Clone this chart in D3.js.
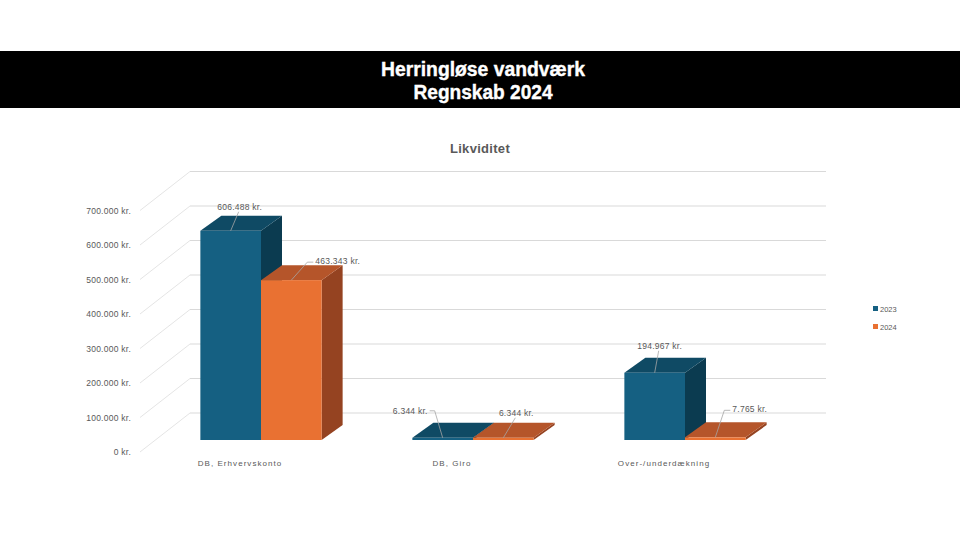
<!DOCTYPE html>
<html>
<head>
<meta charset="utf-8">
<script src="https://cdn.jsdelivr.net/npm/d3@7"></script>
<style>
  body { margin: 0; background: #fff; }
  svg { display: block; }
</style>
</head>
<body>
<svg id="chart"></svg>
<script>
// data
const categories = ["DB, Erhvervskonto", "DB, Giro", "Over-/underdækning"];
const seriesNames = ["2023", "2024"];
const values2023 = [606488, 6344, 194967];
const values2024 = [463343, 6344, 7765];
const yTicks = [0, 100000, 200000, 300000, 400000, 500000, 600000, 700000];
const titleLines = ["Herringløse vandværk", "Regnskab 2024"];
const chartTitle = "Likviditet";

// header line widths (narrow font in the original)
const titleWidths = [204, 139];

// where each data label sits relative to the top of its bar (text centre offset, anchor, leader style)
const labelPlacement = [
  [{dx: 9, dy: -24, anchor: "middle", elbow: 0}, {dx: 24, dy: -19, anchor: "start", elbow: 1}],
  [{dx: -15, dy: -27, anchor: "end", elbow: -1}, {dx: 13, dy: -25, anchor: "middle", elbow: 0}],
  [{dx: 5, dy: -27, anchor: "middle", elbow: 0}, {dx: 17, dy: -28, anchor: "start", elbow: 1}]
];

const W = 960, H = 540;
const svg = d3.select("#chart").attr("width", W).attr("height", H);

const fmt = v => d3.format(",")(v).replace(/,/g, ".") + " kr.";
const FONT = "'Liberation Sans', Arial, sans-serif";

// header band
svg.append("rect").attr("x", 0).attr("y", 51).attr("width", W).attr("height", 57).attr("fill", "#000");
svg.selectAll(".hdr").data(titleLines).enter().append("text")
  .attr("x", W / 2 + 3)
  .attr("y", (d, i) => 76 + i * 23)
  .attr("text-anchor", "middle")
  .attr("textLength", (d, i) => titleWidths[i])
  .attr("lengthAdjust", "spacingAndGlyphs")
  .style("font-family", FONT)
  .style("font-weight", "bold")
  .style("font-size", "21px")
  .attr("fill", "#fff")
  .attr("stroke", "#fff")
  .attr("stroke-width", 0.4)
  .text(d => d);

// chart title
svg.append("text")
  .attr("x", 480).attr("y", 153)
  .attr("text-anchor", "middle")
  .style("font-family", FONT)
  .style("font-weight", "bold")
  .style("font-size", "13px")
  .style("letter-spacing", "0.3px")
  .attr("fill", "#595959")
  .text(chartTitle);

// 3d geometry
const depth = {dx: 50, dy: -39};      // floor depth
const barFront = {dx: 15, dy: -12};   // where the bar front face sits in depth
const barDepth = {dx: 21, dy: -15};   // bar thickness

const x = d3.scaleBand().domain(categories).range([140, 776]);
const y = d3.scaleLinear().domain([0, 700000]).range([452, 210.5]);
const groupW = x.bandwidth() * 0.572;
const x1 = d3.scaleBand().domain(seriesNames).range([0, groupW]);

const gridColor = "#d9d9d9";
const textColor = "#595959";

// back wall gridlines + side wall diagonals
const grid = svg.append("g");
grid.selectAll(".back").data(yTicks).enter().append("line")
  .attr("x1", 140 + depth.dx).attr("x2", 776 + depth.dx)
  .attr("y1", d => y(d) + depth.dy).attr("y2", d => y(d) + depth.dy)
  .attr("stroke", gridColor).attr("stroke-width", 1);
grid.selectAll(".side").data(yTicks).enter().append("line")
  .attr("x1", 140).attr("x2", 140 + depth.dx)
  .attr("y1", d => y(d)).attr("y2", d => y(d) + depth.dy)
  .attr("stroke", gridColor).attr("stroke-width", 0.7);

// y axis labels
svg.append("g").selectAll("text").data(yTicks).enter().append("text")
  .attr("x", 131).attr("y", d => y(d) + 3)
  .attr("text-anchor", "end")
  .style("font-family", FONT)
  .style("font-size", "8.5px")
  .style("letter-spacing", "0.25px")
  .attr("fill", textColor)
  .text(d => fmt(d));

// category labels
svg.append("g").selectAll("text").data(categories).enter().append("text")
  .attr("x", d => x(d) + x.bandwidth() / 2 - 6)
  .attr("y", 466)
  .attr("text-anchor", "middle")
  .style("font-family", FONT)
  .style("font-size", "8px")
  .style("letter-spacing", "1.05px")
  .attr("fill", textColor)
  .text(d => d);

const colors = {
  "2023": {front: "#156082", top: "#0f4a64", side: "#0b3b50"},
  "2024": {front: "#e97132", top: "#b5552a", side: "#954321"}
};

const bars = [];
categories.forEach((c, ci) => {
  [values2023[ci], values2024[ci]].forEach((v, si) => {
    bars.push({cat: c, ci: ci, s: seriesNames[si], si: si, v: v});
  });
});

const yb = v => y(v) + barFront.dy;
const xb = d => x(d.cat) + (x.bandwidth() - groupW) / 2 + x1(d.s) + barFront.dx;
const pts = a => a.map(p => p.join(",")).join(" ");

const barG = svg.append("g");
bars.forEach(d => {
  const x0 = xb(d), x2 = x0 + x1.bandwidth();
  const y0 = yb(0), yt = yb(d.v);
  const c = colors[d.s];
  const g = barG.append("g");
  g.append("polygon")
    .attr("points", pts([[x2, yt], [x2 + barDepth.dx, yt + barDepth.dy], [x2 + barDepth.dx, y0 + barDepth.dy], [x2, y0]]))
    .attr("fill", c.side);
  g.append("polygon")
    .attr("points", pts([[x0, yt], [x2, yt], [x2 + barDepth.dx, yt + barDepth.dy], [x0 + barDepth.dx, yt + barDepth.dy]]))
    .attr("fill", c.top);
  g.append("rect")
    .attr("x", x0).attr("y", yt).attr("width", x2 - x0).attr("height", Math.max(0, y0 - yt))
    .attr("fill", c.front);
});

// data labels with leader lines
const lblG = svg.append("g");
bars.forEach(d => {
  const p = labelPlacement[d.ci][d.si];
  const ax = xb(d) + x1.bandwidth() / 2, ay = yb(d.v);
  const tx = ax + p.dx, ty = ay + p.dy;
  let path;
  if (p.elbow === 0) {
    path = [[ax, ay], [tx - 1, ty + 5]];
  } else if (p.elbow === 1) {
    path = [[ax, ay], [tx - 8, ty + 1], [tx - 2, ty + 1]];
  } else {
    path = [[ax, ay], [tx + 7, ty], [tx + 2, ty]];
  }
  lblG.append("polyline")
    .attr("points", pts(path))
    .attr("fill", "none")
    .attr("stroke", "#a6a6a6")
    .attr("stroke-width", 0.8);
  lblG.append("text")
    .attr("x", tx).attr("y", ty + 3)
    .attr("text-anchor", p.anchor)
    .style("font-family", FONT)
    .style("font-size", "8.5px")
    .style("letter-spacing", "0.25px")
    .attr("fill", textColor)
    .text(fmt(d.v));
});

// legend
const leg = svg.append("g").attr("transform", "translate(873,306)");
seriesNames.forEach((s, i) => {
  leg.append("rect").attr("x", 0).attr("y", i * 18).attr("width", 5).attr("height", 5)
    .attr("fill", colors[s].front);
  leg.append("text").attr("x", 7).attr("y", i * 18 + 5.5)
    .style("font-family", FONT)
    .style("font-size", "7.5px")
    .attr("fill", textColor)
    .text(s);
});
</script>
</body>
</html>
